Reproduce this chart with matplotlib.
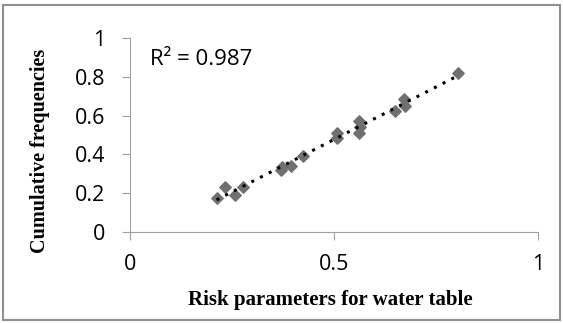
import numpy as np
import matplotlib.pyplot as plt
from matplotlib.patches import Rectangle

x = [0.212, 0.233, 0.257, 0.276, 0.370, 0.372, 0.394, 0.423, 0.508, 0.508,
     0.562, 0.562, 0.564, 0.648, 0.672, 0.674, 0.803]
y = [0.174, 0.234, 0.190, 0.230, 0.320, 0.337, 0.340, 0.390, 0.512, 0.483,
     0.574, 0.509, 0.543, 0.624, 0.684, 0.650, 0.821]
r2_label = 'R² = 0.987'

fig = plt.figure(figsize=(5.63, 3.23), dpi=100)
ax = fig.add_axes([0.231, 0.282, 0.725, 0.600])

ax.scatter(x, y, marker='D', s=34, color='#707070', zorder=2)

# linear trendline
k, b = np.polyfit(x, y, 1)
xs = np.array([min(x), max(x)])
ax.plot(xs, k * xs + b, color='black', linestyle=(0, (1, 2.2)), linewidth=2.2, zorder=3)

ax.set_xlim(0, 1)
ax.set_ylim(0, 1)
ax.set_xticks([0, 0.5, 1])
ax.set_xticklabels(['0', '0.5', '1'])
ax.set_yticks([0, 0.2, 0.4, 0.6, 0.8, 1])
ax.set_yticklabels(['0', '0.2', '0.4', '0.6', '0.8', '1'])
for s in ['top', 'right']:
    ax.spines[s].set_visible(False)
for s in ['left', 'bottom']:
    ax.spines[s].set_color('#a0a0a0')
ax.tick_params(colors='#a0a0a0', length=6, labelcolor='black', labelsize=15.5)
ax.tick_params(axis='y', pad=12)
ax.tick_params(axis='x', pad=10)
for lab in ax.get_xticklabels() + ax.get_yticklabels():
    lab.set_family('Open Sans')

ax.set_xlabel('Risk parameters for water table', family='Liberation Serif',
              fontweight='bold', fontsize=15)
ax.set_ylabel('Cumulative frequencies', family='Liberation Serif',
              fontweight='bold', fontsize=14.5)
ax.xaxis.set_label_coords(0.49, -0.30)
ax.yaxis.set_label_coords(-0.195, 0.42)
ax.text(0.05, 0.86, r2_label, transform=ax.transAxes, family='Open Sans', fontsize=16)

fig.patches.append(Rectangle((0.006, 0.01), 0.988, 0.975, transform=fig.transFigure,
                             fill=False, edgecolor='#909090', linewidth=1.5))

fig.savefig('out.png', dpi=100)
